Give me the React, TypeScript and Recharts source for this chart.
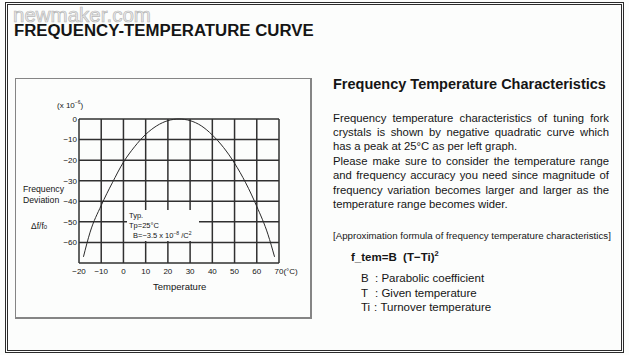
import React from 'react';
import { LineChart, Line, XAxis, YAxis, CartesianGrid } from 'recharts';

const temperatureTicks = [-20, -10, 0, 10, 20, 30, 40, 50, 60, 70];
const deviationTicks = [-70, -60, -50, -40, -30, -20, -10, 0];
const curveTemps = [-18, -15, -10, -5, 0, 5, 10, 15, 20, 25, 30, 35, 40, 45, 50, 55, 60, 65, 68];
const curveDeviation = [-67, -55, -42, -31, -21, -13.5, -7.5, -3.3, -0.8, 0, -0.8, -3.3, -7.8, -13.8, -21.5, -31, -42.5, -56, -67];

const paragraphLines1 = [
  'Frequency temperature characteristics of tuning fork',
  'crystals is shown by negative quadratic curve which',
  'has a peak at 25\u00B0C as per left graph.',
];
const paragraphLines2 = [
  'Please make sure to consider the temperature range',
  'and frequency accuracy you need since magnitude of',
  'frequency variation becomes larger and larger as the',
  'temperature range becomes wider.',
];
const legendLabels = ['B', 'T', 'Ti'];
const legendTexts = ['Parabolic coefficient', 'Given temperature', 'Turnover temperature'];

const data = curveTemps.map((t, i) => ({ t, d: curveDeviation[i] }));

const FONT = '"Liberation Sans", Arial, Helvetica, sans-serif';
const INK = '#151515';

const fmt = (v: number) => (v < 0 ? '\u2212' + Math.abs(v) : String(v));

const XTick = (props: any) => {
  const { x, y, payload } = props;
  const v = payload.value;
  if (v === 70) {
    return (
      <text x={x - 4.5} y={y} dy="0.71em" textAnchor="start" fontSize={8} fill={INK} fontFamily={FONT}>
        70(°C)
      </text>
    );
  }
  return (
    <text x={x} y={y} dy="0.71em" textAnchor="middle" fontSize={8} fill={INK} fontFamily={FONT}>
      {fmt(v)}
    </text>
  );
};

const abs = (o: React.CSSProperties): React.CSSProperties => ({ position: 'absolute', whiteSpace: 'nowrap', ...o });

export default function App() {
  return (
    <div style={{ position: 'absolute', left: 0, top: 0, width: 629, height: 355, background: '#fcfdfc', overflow: 'hidden', fontFamily: FONT, color: INK }}>
      {/* outer double frame */}
      <div style={abs({ left: 5, top: 2, width: 613, height: 345, border: '3px double #2b2b2b' })} />

      {/* watermark */}
      <div style={abs({ left: 13, top: 7, fontSize: 20.5, lineHeight: '16px', color: '#ececec', WebkitTextStroke: '0.7px #b8b8b8' } as any)}>newmaker.com</div>

      {/* main title */}
      <div style={abs({ left: 14, top: 24, fontSize: 16.8, lineHeight: '14px', fontWeight: 'bold' })}>FREQUENCY-TEMPERATURE CURVE</div>

      {/* chart box */}
      <div style={abs({ left: 15, top: 78, width: 294, height: 238, border: '2px solid #858585', borderTopWidth: 1, borderLeftWidth: 1 })} />

      <div style={abs({ left: 15, top: 78, width: 296, height: 240 })}>
        <LineChart width={296} height={240} data={data} margin={{ top: 41, right: 32, left: 0, bottom: 0 }}>
          <CartesianGrid stroke="#303030" strokeWidth={1.5} />
          <XAxis
            dataKey="t"
            type="number"
            domain={[-20, 70]}
            ticks={temperatureTicks}
            interval={0}
            axisLine={false}
            tickLine={false}
            tickSize={0}
            tickMargin={5}
            height={55}
            tick={<XTick />}
          />
          <YAxis
            type="number"
            domain={[-70, 0]}
            ticks={deviationTicks}
            interval={0}
            axisLine={false}
            tickLine={false}
            tickSize={0}
            tickMargin={2}
            width={64}
            tickFormatter={(v: number) => (v === -70 ? '' : fmt(v))}
            tick={{ fontSize: 8, fill: INK, fontFamily: FONT }}
          />
          <Line type="monotone" dataKey="d" stroke="#2a2a2a" strokeWidth={1} dot={false} isAnimationActive={false} />
        </LineChart>
      </div>

      {/* annotation box inside plot */}
      <div style={abs({ left: 127, top: 210, width: 72, height: 31, background: '#fcfdfc' })} />
      <div style={abs({ left: 129, top: 211, fontSize: 7.5, lineHeight: '10px' })}>Typ.</div>
      <div style={abs({ left: 129, top: 221, fontSize: 7.5, lineHeight: '10px' })}>Tp=25°C</div>
      <div style={abs({ left: 133, top: 231, fontSize: 7.5, lineHeight: '10px' })}>
        B=−3.5 x 10<sup style={{ fontSize: 5, verticalAlign: 'super', lineHeight: 0 }}>−8</sup> /C<sup style={{ fontSize: 5, verticalAlign: 'super', lineHeight: 0 }}>2</sup>
      </div>

      {/* axis texts */}
      <div style={abs({ left: 57, top: 101, fontSize: 8, lineHeight: '10px' })}>
        (x 10<sup style={{ fontSize: 5, verticalAlign: 'super', lineHeight: 0 }}>−6</sup>)
      </div>
      <div style={abs({ left: 23, top: 184, fontSize: 8.7, lineHeight: '10.5px' })}>Frequency<br />Deviation</div>
      <div style={abs({ left: 31, top: 221, fontSize: 8.5, lineHeight: '10px' })}>
        Δf/f<span style={{ fontSize: 6 }}>0</span>
      </div>
      <div style={abs({ left: 153, top: 281, fontSize: 9.5, lineHeight: '12px' })}>Temperature</div>

      {/* right panel */}
      <div style={abs({ left: 333, top: 76, fontSize: 14.5, lineHeight: '17px', fontWeight: 'bold' })}>Frequency Temperature Characteristics</div>

      <div style={{ position: 'absolute', left: 333, top: 110.5, width: 276, fontSize: 11.3, lineHeight: '14.45px' }}>
        {[...paragraphLines1, ...paragraphLines2].map((line, i) => {
          const last = i === paragraphLines1.length - 1 || i === paragraphLines1.length + paragraphLines2.length - 1;
          return (
            <div key={i} style={{ whiteSpace: 'nowrap', textAlign: last ? 'left' : 'justify', textAlignLast: last ? 'left' : 'justify' } as any}>
              {line}
            </div>
          );
        })}
      </div>

      <div style={abs({ left: 333, top: 230.2, width: 277, fontSize: 9.7, lineHeight: '12px', textAlign: 'justify', textAlignLast: 'justify' } as any)}>
        [Approximation formula of frequency temperature characteristics]
      </div>

      <div style={abs({ left: 351, top: 250, fontSize: 11.5, lineHeight: '14px', fontWeight: 'bold' })}>
        f_tem=B&nbsp;&nbsp;(T−Ti)<sup style={{ fontSize: 7.5, verticalAlign: 'super', lineHeight: 0 }}>2</sup>
      </div>

      <div style={abs({ left: 361, top: 271, fontSize: 11.5, lineHeight: '14.5px' })}>
        {legendLabels.map((lab, i) => (
          <div key={lab}>
            <span style={{ display: 'inline-block', width: lab === 'Ti' ? 13 : 14 }}>{lab}</span>:&nbsp;{legendTexts[i]}
          </div>
        ))}
      </div>
    </div>
  );
}
